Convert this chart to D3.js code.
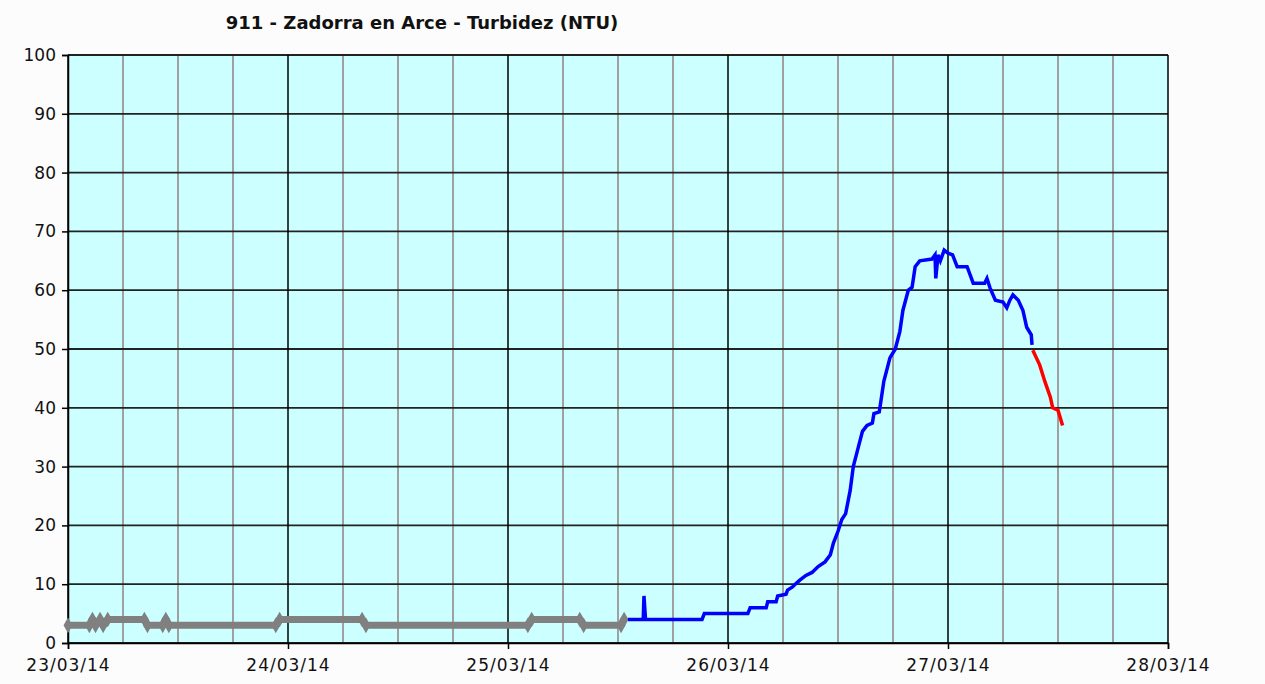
<!DOCTYPE html>
<html>
<head>
<meta charset="utf-8">
<script src="https://cdn.jsdelivr.net/npm/d3@7"></script>
<style>
  body { margin: 0; background: #fcfcfc; }
  text { font-family: "DejaVu Sans", Verdana, sans-serif; fill: #111; }
</style>
</head>
<body>
<div id="chart"></div>
<script>
// turbidity readings
var grayTimes = ["23/03/14 00:00", "23/03/14 02:20", "23/03/14 02:40", "23/03/14 03:00", "23/03/14 03:30",
  "23/03/14 03:50", "23/03/14 04:20", "23/03/14 08:20", "23/03/14 08:40", "23/03/14 10:20",
  "23/03/14 10:40", "23/03/14 11:00", "23/03/14 22:40", "23/03/14 23:05", "24/03/14 08:05",
  "24/03/14 08:30", "25/03/14 02:10", "25/03/14 02:35", "25/03/14 07:50", "25/03/14 08:15",
  "25/03/14 12:20", "25/03/14 12:40"];
var grayValues = [3, 3, 4, 3, 4, 3, 4, 4, 3, 3, 4, 3, 3, 4, 4, 3, 3, 4, 4, 3, 3, 4];

var blueTimes = ["25/03/14 13:05", "25/03/14 14:45", "25/03/14 14:50", "25/03/14 15:00", "25/03/14 21:10",
  "25/03/14 21:25", "26/03/14 02:10", "26/03/14 02:25", "26/03/14 04:10", "26/03/14 04:20",
  "26/03/14 05:15", "26/03/14 05:25", "26/03/14 06:20", "26/03/14 06:30", "26/03/14 07:00",
  "26/03/14 07:20", "26/03/14 07:50", "26/03/14 08:30", "26/03/14 09:10", "26/03/14 09:50",
  "26/03/14 10:35", "26/03/14 11:10", "26/03/14 11:30", "26/03/14 12:00", "26/03/14 12:25",
  "26/03/14 12:50", "26/03/14 13:20", "26/03/14 13:40", "26/03/14 14:05", "26/03/14 14:40",
  "26/03/14 15:10", "26/03/14 15:45", "26/03/14 15:55", "26/03/14 16:30", "26/03/14 16:40",
  "26/03/14 17:00", "26/03/14 17:40", "26/03/14 18:15", "26/03/14 18:45", "26/03/14 19:05",
  "26/03/14 19:40", "26/03/14 20:05", "26/03/14 20:25", "26/03/14 20:55", "26/03/14 22:15",
  "26/03/14 22:35", "26/03/14 22:40", "26/03/14 22:55", "26/03/14 23:10", "26/03/14 23:35",
  "27/03/14 00:00", "27/03/14 00:30", "27/03/14 01:00", "27/03/14 02:05", "27/03/14 02:45",
  "27/03/14 04:00", "27/03/14 04:15", "27/03/14 04:35", "27/03/14 05:10", "27/03/14 06:00",
  "27/03/14 06:25", "27/03/14 06:45", "27/03/14 07:05", "27/03/14 07:40", "27/03/14 08:10",
  "27/03/14 08:35", "27/03/14 09:05", "27/03/14 09:10"];
var blueValues = [4, 4, 8, 4, 4, 5, 5, 6, 6, 7, 7, 8, 8.3, 9, 9.5,
  10, 10.7, 11.5, 12, 13, 13.8, 15, 17, 19, 21, 22, 26, 30, 32.5, 36,
  37, 37.4, 39, 39.3, 41, 44.5, 48.5, 50, 53, 56.6, 60, 60.5, 64, 65, 65.3,
  66, 62, 66, 65, 66.8, 66.3, 66, 64, 64, 61.2, 61.2, 62, 60.4, 58.3, 58,
  57, 58.3, 59.2, 58.3, 56.6, 53.7, 52.4, 50.7];

var redTimes = ["27/03/14 09:15", "27/03/14 10:00", "27/03/14 10:35", "27/03/14 11:10", "27/03/14 11:25",
  "27/03/14 12:00", "27/03/14 12:30"];
var redValues = [49.8, 47.3, 44.4, 41.8, 40, 39.6, 37];

var dayTicks = ["23/03/14", "24/03/14", "25/03/14", "26/03/14", "27/03/14", "28/03/14"];
var yTicks = [0, 10, 20, 30, 40, 50, 60, 70, 80, 90, 100];

var margin = {
  top: 55,
  right: 97,
  bottom: 41,
  left: 68
},
    width = 1265 - margin.left - margin.right,
    height = 684 - margin.top - margin.bottom;

var parseTime = d3.timeParse("%d/%m/%y %H:%M");
var parseDay = d3.timeParse("%d/%m/%y");

var svg = d3.select("#chart").append("svg")
    .attr("width", width + margin.left + margin.right)
    .attr("height", height + margin.top + margin.bottom);

svg.append("text")
    .attr("x", 422)
    .attr("y", 29)
    .attr("text-anchor", "middle")
    .style("font-size", "18px")
    .style("font-weight", "bold")
    .text("911 - Zadorra en Arce - Turbidez (NTU)");

var g = svg.append("g")
    .attr("transform", "translate(" + margin.left + "," + margin.top + ")");

const days = dayTicks.map(parseDay);
const xScale = d3.scaleTime().domain([days[0], days[days.length - 1]]).range([0, width]);
const yScale = d3.scaleLinear().domain([0, 100]).range([height, 0]);

g.append("rect")
    .attr("width", width)
    .attr("height", height)
    .attr("fill", "#ccffff");

// 6-hour grid
var sixHours = d3.timeHour.every(6).range(days[0], days[days.length - 1])
    .filter(d => d.getHours() != 0);
g.selectAll(".vgrid")
  .data(sixHours)
  .enter().append("line")
    .attr("class", "vgrid")
    .attr("x1", d => xScale(d)).attr("x2", d => xScale(d))
    .attr("y1", 0).attr("y2", height)
    .attr("stroke", "#a0a0a0")
    .attr("stroke-width", 2);

g.selectAll(".hgrid")
  .data(yTicks)
  .enter().append("line")
    .attr("class", "hgrid")
    .attr("x1", 0).attr("x2", width)
    .attr("y1", d => yScale(d)).attr("y2", d => yScale(d))
    .attr("stroke", "#222")
    .attr("stroke-width", 1.8);

g.selectAll(".dgrid")
  .data(days)
  .enter().append("line")
    .attr("class", "dgrid")
    .attr("x1", d => xScale(d)).attr("x2", d => xScale(d))
    .attr("y1", 0).attr("y2", height)
    .attr("stroke", "#000")
    .attr("stroke-width", 1.5);

var xAxis = d3.axisBottom(xScale)
    .tickValues(days)
    .tickFormat(d3.timeFormat("%d/%m/%y"))
    .tickSize(6)
    .tickPadding(10);
var yAxis = d3.axisLeft(yScale)
    .tickValues(yTicks)
    .tickSize(6)
    .tickPadding(6);

var xg = g.append("g")
    .attr("transform", "translate(0," + height + ")")
    .call(xAxis);
var yg = g.append("g")
    .call(yAxis);

[xg, yg].forEach(a => {
  a.select(".domain").attr("stroke", "#000").attr("stroke-width", 1.5);
  a.selectAll(".tick line").attr("stroke", "#000").attr("stroke-width", 1.5);
  a.selectAll("text").style("font-size", "17px").attr("fill", "#111");
});
xg.selectAll("text").style("letter-spacing", "1px");

var line = d3.line()
    .x(d => xScale(d.t))
    .y(d => yScale(d.v));

function series(times, values) {
  return times.map((t, i) => ({ t: parseTime(t), v: values[i] }));
}

const grayData = series(grayTimes, grayValues);
const blueData = series(blueTimes, blueValues);
const redData = series(redTimes, redValues);

g.append("path")
    .datum(grayData)
    .attr("fill", "none")
    .attr("stroke", "#808080")
    .attr("stroke-width", 7)
    .attr("stroke-linejoin", "round")
    .attr("d", line);

g.selectAll(".gmark")
  .data(grayData)
  .enter().append("path")
    .attr("class", "gmark")
    .attr("transform", d => "translate(" + xScale(d.t) + "," + yScale(d.v) + ")")
    .attr("d", d3.symbol().type(d3.symbolDiamond).size(70))
    .attr("fill", "#808080");

g.append("path")
    .datum(blueData)
    .attr("fill", "none")
    .attr("stroke", "#0000ff")
    .attr("stroke-width", 3.5)
    .attr("d", line);

g.append("path")
    .datum(redData)
    .attr("fill", "none")
    .attr("stroke", "#ff0000")
    .attr("stroke-width", 3.5)
    .attr("d", line);
</script>
</body>
</html>
